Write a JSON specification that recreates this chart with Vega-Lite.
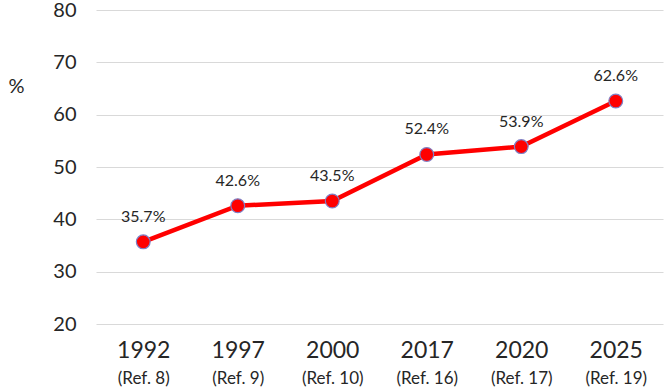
{
  "$schema": "https://vega.github.io/schema/vega-lite/v6.json",
  "width": 567,
  "height": 314,
  "autosize": {"type": "none"},
  "padding": {"left": 96, "top": 10, "right": 2, "bottom": 68},
  "background": "white",
  "config": {
    "font": "Lato",
    "view": {"stroke": null},
    "axis": {"labelColor": "#262626", "titleColor": "#262626"}
  },
  "data": {
    "values": [
      {"key": "1992|(Ref. 8)", "value": 35.7, "lbl": "35.7%"},
      {"key": "1997|(Ref. 9)", "value": 42.6, "lbl": "42.6%"},
      {"key": "2000|(Ref. 10)", "value": 43.5, "lbl": "43.5%"},
      {"key": "2017|(Ref. 16)", "value": 52.4, "lbl": "52.4%"},
      {"key": "2020|(Ref. 17)", "value": 53.9, "lbl": "53.9%"},
      {"key": "2025|(Ref. 19)", "value": 62.6, "lbl": "62.6%"}
    ]
  },
  "encoding": {
    "y": {
      "field": "value",
      "type": "quantitative",
      "scale": {"domain": [20, 80], "nice": false, "zero": false},
      "axis": {
        "values": [20, 30, 40, 50, 60, 70, 80],
        "domain": false,
        "ticks": false,
        "grid": true,
        "gridColor": "#d9d9d9",
        "gridWidth": 1.2,
        "labelFontSize": 20,
        "labelPadding": 20,
        "title": "%",
        "titleAngle": 0,
        "titleFontSize": 20,
        "titleFontWeight": "normal",
        "titleX": -88,
        "titleY": 76,
        "titleAlign": "left",
        "titleBaseline": "middle"
      }
    }
  },
  "layer": [
    {
      "mark": {"type": "line", "color": "#ff0000", "strokeWidth": 4.5},
      "encoding": {
        "x": {
          "field": "key",
          "type": "ordinal",
          "sort": null,
          "axis": {
            "orient": "bottom",
            "title": null,
            "domain": false,
            "ticks": false,
            "labelAngle": 0,
            "labelFontSize": 23,
            "labelPadding": 15,
            "labelExpr": "split(datum.label, '|')[0]"
          }
        }
      }
    },
    {
      "mark": {"type": "point", "filled": true, "fill": "#ff0000", "stroke": "#7f7fc4", "strokeWidth": 1.2, "size": 190, "opacity": 1},
      "encoding": {
        "x": {
          "field": "key",
          "type": "ordinal",
          "sort": null,
          "axis": {
            "orient": "bottom",
            "title": null,
            "domain": false,
            "ticks": false,
            "grid": false,
            "labelAngle": 0,
            "labelFontSize": 17,
            "labelPadding": 46,
            "labelExpr": "split(datum.label, '|')[1]"
          }
        }
      }
    },
    {
      "mark": {"type": "text", "fontSize": 16, "color": "#262626", "baseline": "alphabetic", "dy": -20},
      "encoding": {
        "x": {"field": "key", "type": "ordinal", "sort": null, "axis": null},
        "text": {"field": "lbl"}
      }
    }
  ],
  "resolve": {"axis": {"x": "independent"}}
}
